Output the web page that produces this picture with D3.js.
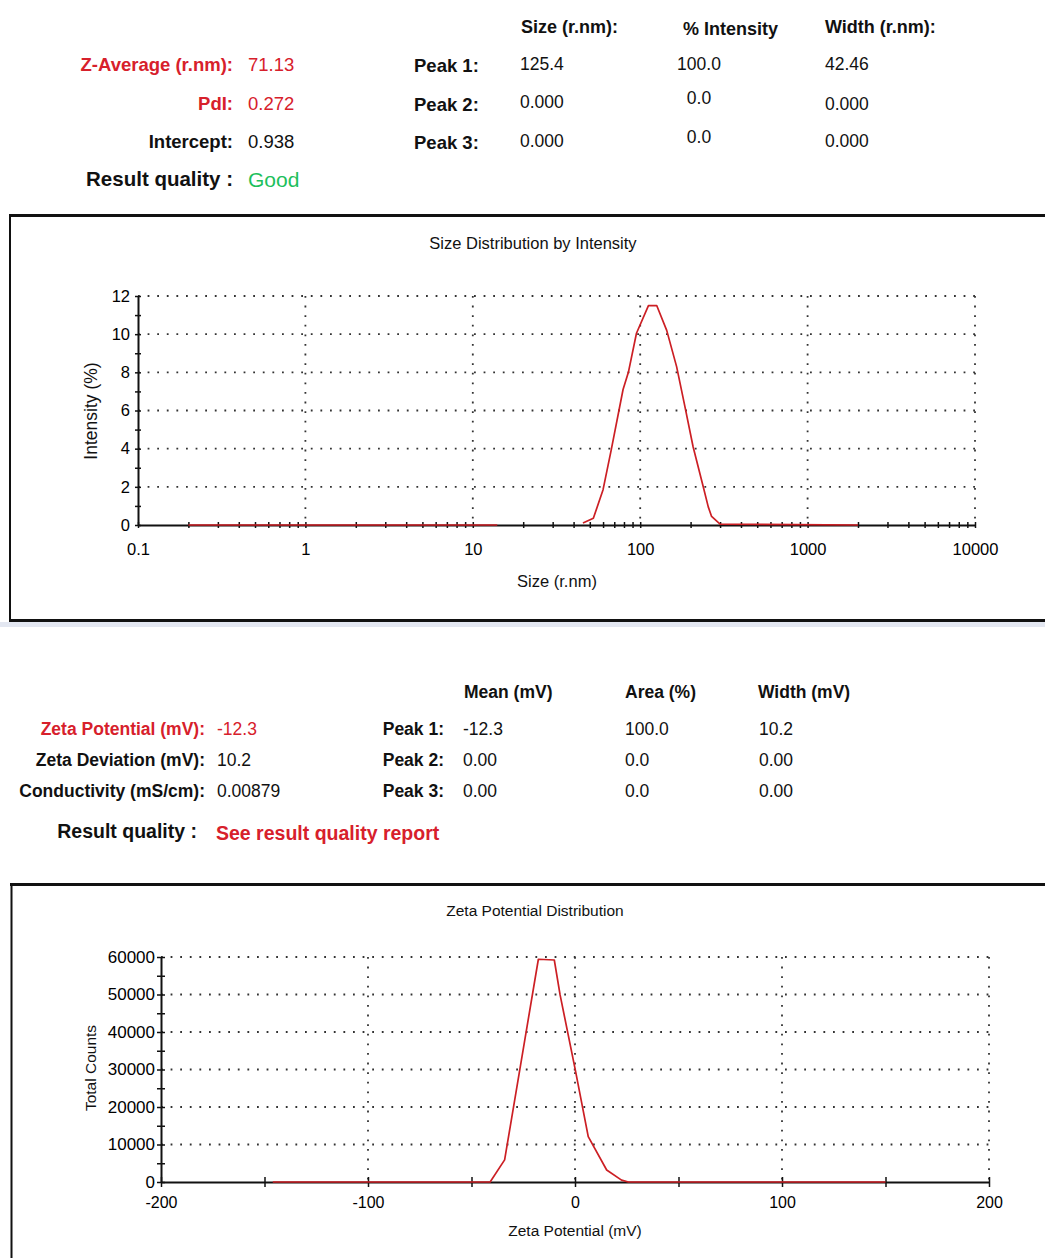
<!DOCTYPE html>
<html>
<head>
<meta charset="utf-8">
<script src="https://cdn.jsdelivr.net/npm/d3@7"></script>
<style>
  html, body { margin: 0; padding: 0; background: #fff; }
  svg { display: block; }
  text { font-family: "Liberation Sans", Arial, sans-serif; }
</style>
</head>
<body>
<svg id="report" width="1045" height="1258"></svg>
<script>
// ---- Size measurement summary ----
const sizeSummary = [["Z-Average (r.nm):", "71.13"], ["PdI:", "0.272"], ["Intercept:", "0.938"]];
const sizeColumns = ["Size (r.nm):", "% Intensity", "Width (r.nm):"];
const sizePeaks = [
  ["Peak 1:", "125.4", "100.0", "42.46"],
  ["Peak 2:", "0.000", "0.0", "0.000"],
  ["Peak 3:", "0.000", "0.0", "0.000"]
];
const sizeQuality = "Good";

// ---- Size distribution by intensity (null breaks the trace) ----
const sizeRadius   = [0.2, 14, 20, 45.5, 52.5, 60, 67, 79, 85, 95, 112, 125.5, 144, 165, 185, 207, 238, 255, 267, 300, 2000];
const intensityPct = [0, 0, null, 0.1, 0.35, 1.85, 3.9, 7.1, 8.0, 10.05, 11.5, 11.5, 10.2, 8.3, 6.2, 4.1, 2.0, 0.95, 0.45, 0.05, 0];
const sizeTicks = [0.1, 1, 10, 100, 1000, 10000];
const sizeTickLabels = ["0.1", "1", "10", "100", "1000", "10000"];
const intensityTicks = [0, 2, 4, 6, 8, 10, 12];

// ---- Zeta measurement summary ----
const zetaSummary = [["Zeta Potential (mV):", "-12.3"], ["Zeta Deviation (mV):", "10.2"], ["Conductivity (mS/cm):", "0.00879"]];
const zetaColumns = ["Mean (mV)", "Area (%)", "Width (mV)"];
const zetaPeaks = [
  ["Peak 1:", "-12.3", "100.0", "10.2"],
  ["Peak 2:", "0.00", "0.0", "0.00"],
  ["Peak 3:", "0.00", "0.0", "0.00"]
];
const zetaQuality = "See result quality report";

// ---- Zeta potential distribution ----
const zetaMv      = [-146, -41, -34, -17.7, -10, -7.2, 0, 6.4, 15.3, 22.5, 25.8, 150];
const totalCounts = [0, 0, 5900, 59400, 59200, 49900, 30300, 12100, 3200, 500, 0, 0];
const zetaTicks = [-200, -100, 0, 100, 200];
const countTicks = [0, 10000, 20000, 30000, 40000, 50000, 60000];

const RED = "#d7202b";
const LINE_RED = "#cc1f24";
const svg = d3.select("#report");

svg.append("rect").attr("width", 1045).attr("height", 1258).attr("fill", "#fff");

function txt(g, x, y, s, o = {}) {
  return g.append("text")
    .attr("x", x).attr("y", y)
    .attr("text-anchor", o.anchor || "start")
    .attr("font-size", o.size || 16)
    .attr("font-weight", o.weight || "normal")
    .attr("fill", o.fill || "#111")
    .text(s);
}

// ================= top summary table =================
const sizeTable = svg.append("g");
const topRowsY = [71, 110, 148];
sizeSummary.forEach((r, i) => {
  const col = i < 2 ? RED : "#111";
  txt(sizeTable, 233, topRowsY[i], r[0], { anchor: "end", size: 18.5, weight: "bold", fill: col });
  txt(sizeTable, 248, topRowsY[i], r[1], { size: 18.5, fill: col });
});
const headX = [521, 683, 825];
sizeColumns.forEach((h, j) => txt(sizeTable, headX[j], j === 1 ? 35 : 33, h, { size: 18, weight: "bold" }));
const valueDy = [[-1, -2, -1], [-1, -6, -5], [-1, 0, -1]];
sizePeaks.forEach((r, i) => {
  txt(sizeTable, 414, topRowsY[i] + 1, r[0], { size: 18.5, weight: "bold" });
  txt(sizeTable, 520, topRowsY[i] + valueDy[0][i], r[1], { size: 17.5 });
  txt(sizeTable, 699, topRowsY[i] + valueDy[1][i], r[2], { size: 17.5, anchor: "middle" });
  txt(sizeTable, 825, topRowsY[i] + valueDy[2][i], r[3], { size: 17.5 });
});
txt(sizeTable, 233, 186, "Result quality :", { anchor: "end", size: 20.5, weight: "bold" });
txt(sizeTable, 248, 187, sizeQuality, { size: 21, fill: "#1dbf5c" });

// ================= size distribution chart =================
const f1 = svg.append("g");
f1.append("line").attr("x1", 9).attr("x2", 1045).attr("y1", 215.5).attr("y2", 215.5).attr("stroke", "#111").attr("stroke-width", 3);
f1.append("line").attr("x1", 10).attr("x2", 10).attr("y1", 214).attr("y2", 622).attr("stroke", "#111").attr("stroke-width", 2);
f1.append("line").attr("x1", 9).attr("x2", 1045).attr("y1", 620.5).attr("y2", 620.5).attr("stroke", "#111").attr("stroke-width", 3);
f1.append("rect").attr("x", 0).attr("y", 622).attr("width", 1045).attr("height", 5).attr("fill", "#e3e7f1");

const x1 = d3.scaleLog().domain([0.1, 10000]).range([138, 975]);
const y1 = d3.scaleLinear().domain([0, 12]).range([525, 296]);

txt(f1, 533, 249, "Size Distribution by Intensity", { anchor: "middle", size: 16.5 });

const dotted = { stroke: "#333", "stroke-width": 1.8, "stroke-dasharray": "1.8 7.8" };
function applyAttrs(sel, a) { Object.entries(a).forEach(([k, v]) => sel.attr(k, v)); return sel; }

// grid
applyAttrs(f1.append("g").selectAll("line").data(intensityTicks.slice(1)).join("line")
  .attr("x1", x1(0.1)).attr("x2", x1(10000)).attr("y1", d => y1(d)).attr("y2", d => y1(d)), dotted);
applyAttrs(f1.append("g").selectAll("line").data(sizeTicks.slice(1)).join("line")
  .attr("x1", d => x1(d)).attr("x2", d => x1(d)).attr("y1", y1(12)).attr("y2", y1(0)), dotted);

// minor x ticks at 2..9 of each decade
const minorSize = [];
for (let p = -1; p < 4; p++) for (let m = 1; m < 10; m++) minorSize.push(m * Math.pow(10, p));
minorSize.push(10000);

const xAxis1 = f1.append("g").attr("transform", `translate(0,${y1(0)})`)
  .call(d3.axisBottom(x1).tickValues(minorSize).tickSizeInner(4).tickSizeOuter(0).tickPadding(14)
    .tickFormat(d => { const k = sizeTicks.findIndex(t => Math.abs(t - d) / d < 1e-9); return k >= 0 ? sizeTickLabels[k] : ""; }));
xAxis1.selectAll(".tick line").attr("y1", -3).attr("y2", 3).attr("stroke", "#111").attr("stroke-width", 1.5);
xAxis1.select(".domain").attr("stroke", "#111").attr("stroke-width", 2);
xAxis1.selectAll("text").attr("font-size", 16.5).attr("fill", "#000").attr("font-family", null);

const yAxis1 = f1.append("g").attr("transform", `translate(${x1(0.1)},0)`)
  .call(d3.axisLeft(y1).tickValues(d3.range(0, 13)).tickSizeInner(4).tickSizeOuter(0).tickPadding(4)
    .tickFormat(d => intensityTicks.includes(d) ? String(d) : ""));
yAxis1.selectAll(".tick line").attr("x1", -3).attr("x2", 3).attr("stroke", "#111").attr("stroke-width", 1.5);
yAxis1.select(".domain").attr("stroke", "#111").attr("stroke-width", 2);
yAxis1.selectAll("text").attr("font-size", 16.5).attr("fill", "#000").attr("font-family", null);

txt(f1, 557, 587, "Size (r.nm)", { anchor: "middle", size: 16.5 });
txt(f1, 0, 0, "Intensity (%)", { anchor: "middle", size: 17.5 })
  .attr("transform", "translate(97,411) rotate(-90)");

const sizeSeries = sizeRadius.map((s, i) => ({ x: s, y: intensityPct[i] }));
f1.append("path")
  .attr("d", d3.line().defined(d => d.y !== null).x(d => x1(d.x)).y(d => y1(d.y))(sizeSeries))
  .attr("fill", "none").attr("stroke", LINE_RED).attr("stroke-width", 1.7).attr("stroke-linejoin", "round");

// ================= zeta summary table =================
const zetaTable = svg.append("g");
const midRowsY = [735, 766, 797];
zetaSummary.forEach((r, i) => {
  const col = i === 0 ? RED : "#111";
  txt(zetaTable, 205, midRowsY[i], r[0], { anchor: "end", size: 17.5, weight: "bold", fill: col });
  txt(zetaTable, 217, midRowsY[i], r[1], { size: 17.5, fill: col });
});
const zHeadX = [464, 625, 758];
zetaColumns.forEach((h, j) => txt(zetaTable, zHeadX[j], 698, h, { size: 17.5, weight: "bold" }));
zetaPeaks.forEach((r, i) => {
  txt(zetaTable, 444, midRowsY[i], r[0], { anchor: "end", size: 17.5, weight: "bold" });
  txt(zetaTable, 463, midRowsY[i], r[1], { size: 17.5 });
  txt(zetaTable, 625, midRowsY[i], r[2], { size: 17.5 });
  txt(zetaTable, 759, midRowsY[i], r[3], { size: 17.5 });
});
txt(zetaTable, 197, 838, "Result quality :", { anchor: "end", size: 19.5, weight: "bold" });
txt(zetaTable, 216, 840, zetaQuality, { size: 19.5, weight: "bold", fill: RED });

// ================= zeta potential chart =================
const f2 = svg.append("g");
f2.append("line").attr("x1", 10).attr("x2", 1045).attr("y1", 884.5).attr("y2", 884.5).attr("stroke", "#111").attr("stroke-width", 3);
f2.append("line").attr("x1", 11.5).attr("x2", 11.5).attr("y1", 883).attr("y2", 1258).attr("stroke", "#111").attr("stroke-width", 2);

const x2 = d3.scaleLinear().domain([-200, 200]).range([161, 989]);
const y2 = d3.scaleLinear().domain([0, 60000]).range([1182, 957]);

txt(f2, 535, 916, "Zeta Potential Distribution", { anchor: "middle", size: 15.5 });

applyAttrs(f2.append("g").selectAll("line").data(countTicks.slice(1)).join("line")
  .attr("x1", x2(-200)).attr("x2", x2(200)).attr("y1", d => y2(d)).attr("y2", d => y2(d)), dotted);
applyAttrs(f2.append("g").selectAll("line").data(zetaTicks.slice(1)).join("line")
  .attr("x1", d => x2(d)).attr("x2", d => x2(d)).attr("y1", y2(60000)).attr("y2", y2(0)), dotted);

const xAxis2 = f2.append("g").attr("transform", `translate(0,${y2(0)})`)
  .call(d3.axisBottom(x2).tickValues(d3.range(-200, 201, 50)).tickSizeInner(5).tickSizeOuter(0).tickPadding(10)
    .tickFormat(d => zetaTicks.includes(d) ? String(d) : ""));
xAxis2.selectAll(".tick line").attr("y1", -5).attr("y2", 5).attr("stroke", "#111").attr("stroke-width", 1.5);
xAxis2.select(".domain").attr("stroke", "#111").attr("stroke-width", 2);
xAxis2.selectAll("text").attr("font-size", 16).attr("fill", "#000").attr("font-family", null);

const yAxis2 = f2.append("g").attr("transform", `translate(${x2(-200)},0)`)
  .call(d3.axisLeft(y2).tickValues(d3.range(0, 60001, 5000)).tickSizeInner(4).tickSizeOuter(0).tickPadding(2)
    .tickFormat(d => countTicks.includes(d) ? String(d) : ""));
yAxis2.selectAll(".tick line").attr("x1", -4).attr("x2", 4).attr("stroke", "#111").attr("stroke-width", 1.5);
yAxis2.select(".domain").attr("stroke", "#111").attr("stroke-width", 2);
yAxis2.selectAll("text").attr("font-size", 17).attr("fill", "#000").attr("font-family", null);

txt(f2, 575, 1236, "Zeta Potential (mV)", { anchor: "middle", size: 15.5 });
txt(f2, 0, 0, "Total Counts", { anchor: "middle", size: 15.5 })
  .attr("transform", "translate(96,1068) rotate(-90)");

const zetaSeries = zetaMv.map((m, i) => ({ x: m, y: totalCounts[i] }));
f2.append("path")
  .attr("d", d3.line().x(d => x2(d.x)).y(d => y2(d.y))(zetaSeries))
  .attr("fill", "none").attr("stroke", LINE_RED).attr("stroke-width", 1.7).attr("stroke-linejoin", "round");
</script>
</body>
</html>
